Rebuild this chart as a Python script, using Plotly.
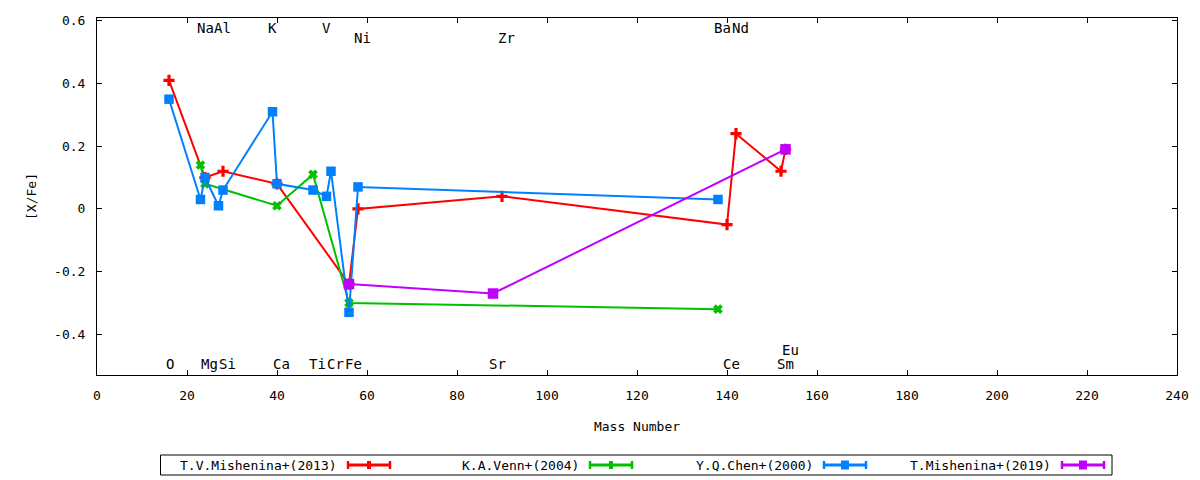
import plotly.graph_objects as go

# ---------------- data ----------------
red_name = "T.V.Mishenina+(2013)"
red_x = [16, 24, 28, 40, 56, 58, 90, 140, 142, 152, 153]
red_y = [0.41, 0.10, 0.12, 0.08, -0.24, 0.00, 0.04, -0.05, 0.24, 0.12, 0.19]

green_name = "K.A.Venn+(2004)"
green_x = [23, 24, 40, 48, 56, 138]
green_y = [0.14, 0.08, 0.01, 0.11, -0.30, -0.32]

blue_name = "Y.Q.Chen+(2000)"
blue_x = [16, 23, 24, 27, 28, 39, 40, 48, 51, 52, 56, 58, 138]
blue_y = [0.35, 0.03, 0.10, 0.01, 0.06, 0.31, 0.08, 0.06, 0.04, 0.12, -0.33, 0.07, 0.03]

purple_name = "T.Mishenina+(2019)"
purple_x = [56, 88, 153]
purple_y = [-0.24, -0.27, 0.19]

label_text = ["Na", "Al", "K", "V", "Ba", "Nd", "Ni", "Zr",
              "O", "Mg", "Si", "Ca", "Ti", "Cr", "Fe", "Sr", "Ce", "Sm", "Eu"]
label_x = [24.0, 27.9, 39.0, 51.0, 139.0, 142.9, 59.0, 91.0,
           16.2, 25.1, 28.9, 41.0, 49.0, 53.0, 57.1, 88.9, 141.0, 153.0, 154.2]
label_y = [0.578, 0.578, 0.578, 0.578, 0.578, 0.578, 0.546, 0.546,
           -0.495, -0.495, -0.495, -0.495, -0.495, -0.495, -0.495, -0.495, -0.495, -0.495, -0.449]

x_ticks = [0, 20, 40, 60, 80, 100, 120, 140, 160, 180, 200, 220, 240]
y_ticks = [-0.4, -0.2, 0, 0.2, 0.4, 0.6]
y_ticktext = ["-0.4", "-0.2", "0", "0.2", "0.4", "0.6"]

# ---------------- style ----------------
FONT = "DejaVu Sans Mono"
RED, GREEN, BLUE, PURPLE = "#ff0000", "#00c000", "#0080ff", "#c000ff"

OFF = 8  # page body margin
W, H = 1200 - OFF, 480 - OFF
L, R, T, B = 97 - OFF, 23, 18 - OFF, 105
PW, PH = W - L - R, H - T - B


def px(x):
    return (x - OFF - L) / PW


def py(y):
    return (H - B - (y - OFF)) / PH


fig = go.Figure()

fig.add_trace(go.Scatter(
    x=red_x, y=red_y, mode="lines+markers", name=red_name,
    line=dict(color=RED, width=2),
    marker=dict(symbol="cross-thin", size=8, color=RED, line=dict(color=RED, width=3.2)),
))
fig.add_trace(go.Scatter(
    x=green_x, y=green_y, mode="lines+markers", name=green_name,
    line=dict(color=GREEN, width=2),
    marker=dict(symbol="x-thin", size=7, color=GREEN, line=dict(color=GREEN, width=3.8)),
))
fig.add_trace(go.Scatter(
    x=blue_x, y=blue_y, mode="lines+markers", name=blue_name,
    line=dict(color=BLUE, width=2),
    marker=dict(symbol="square", size=9.5, color=BLUE, line=dict(width=0)),
))
fig.add_trace(go.Scatter(
    x=purple_x, y=purple_y, mode="lines+markers", name=purple_name,
    line=dict(color=PURPLE, width=2),
    marker=dict(symbol="square", size=10.5, color=PURPLE, line=dict(width=0)),
))

annotations = []
for t, x, y in zip(label_text, label_x, label_y):
    annotations.append(dict(x=x, y=y, xref="x", yref="y", text=t, showarrow=False,
                            xanchor="center", yanchor="middle",
                            font=dict(family=FONT, size=14, color="black")))

# ---------------- manual legend (text, then sample) ----------------
shapes = []
shapes.append(dict(type="rect", xref="paper", yref="paper",
                   x0=px(160.5), x1=px(1112), y0=py(455), y1=py(475),
                   line=dict(color="black", width=1), fillcolor="rgba(0,0,0,0)"))

legend_items = [
    (red_name, RED, 347, 391, "bar"),
    (green_name, GREEN, 589, 633, "bar"),
    (blue_name, BLUE, 823, 867, "sq"),
    (purple_name, PURPLE, 1061, 1105, "sq"),
]
ly = 465
for name, col, s0, s1, kind in legend_items:
    annotations.append(dict(x=px(s0 - 8), y=py(ly), xref="paper", yref="paper",
                            text=name, showarrow=False, xanchor="right", yanchor="middle",
                            font=dict(family=FONT, size=13, color="black")))
    shapes.append(dict(type="line", xref="paper", yref="paper",
                       x0=px(s0), x1=px(s1), y0=py(ly), y1=py(ly),
                       line=dict(color=col, width=3)))
    for sx in (s0 + 1, s1 - 1):
        shapes.append(dict(type="line", xref="paper", yref="paper",
                           x0=px(sx), x1=px(sx), y0=py(ly - 4), y1=py(ly + 4),
                           line=dict(color=col, width=2.5)))
    cx = (s0 + s1) / 2
    if kind == "bar":
        shapes.append(dict(type="rect", xref="paper", yref="paper",
                           x0=px(cx - 2), x1=px(cx + 2), y0=py(ly - 4), y1=py(ly + 4),
                           line=dict(width=0), fillcolor=col))
    else:
        shapes.append(dict(type="rect", xref="paper", yref="paper",
                           x0=px(cx - 4), x1=px(cx + 4), y0=py(ly - 4.5), y1=py(ly + 4.5),
                           line=dict(width=0), fillcolor=col))

fig.update_layout(
    width=W, height=H,
    margin=dict(l=L, r=R, t=T, b=B, autoexpand=False),
    paper_bgcolor="white", plot_bgcolor="white",
    showlegend=False,
    font=dict(family=FONT, size=13, color="black"),
    annotations=annotations,
    shapes=shapes,
)
fig.update_xaxes(
    range=[0, 240], tickvals=x_ticks, ticks="inside", ticklen=5, tickwidth=1,
    tickcolor="black", showline=True, linecolor="black", linewidth=1, mirror="ticks",
    showgrid=False, zeroline=False, ticklabelstandoff=8,
    tickfont=dict(family=FONT, size=13),
    title=dict(text="Mass Number", font=dict(family=FONT, size=13), standoff=20),
)
fig.update_yaxes(
    range=[-0.530, 0.609], tickvals=y_ticks, ticktext=y_ticktext, ticks="inside",
    ticklen=5, tickwidth=1, tickcolor="black", showline=True, linecolor="black",
    linewidth=1, mirror="ticks", showgrid=False, zeroline=False, ticklabelstandoff=8,
    tickfont=dict(family=FONT, size=13),
    title=dict(text="[X/Fe]", font=dict(family=FONT, size=13), standoff=14),
)

fig.write_html("out.html")
